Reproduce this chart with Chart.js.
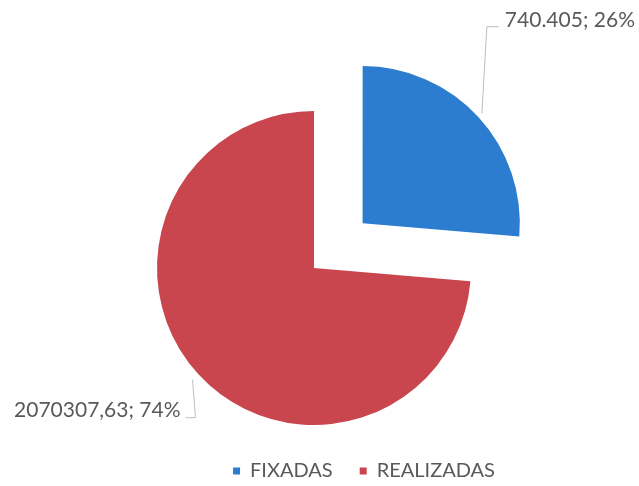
<!DOCTYPE html>
<html>
<head>
<meta charset="utf-8">
<script src="https://cdn.jsdelivr.net/npm/chart.js@4/dist/chart.umd.min.js"></script>
<style>
  html, body { margin: 0; padding: 0; background: #ffffff; }
  #wrap { width: 639px; height: 486px; position: relative; }
</style>
</head>
<body>
<div id="wrap"><canvas id="c" width="639" height="486"></canvas></div>
<script>
const categories = ['FIXADAS', 'REALIZADAS'];
const values = [740405, 2070307.63];
const valueLabels = ['740.405', '2070307,63'];
const colors = ['#2C7DD0', '#C9464F'];

const total = values.reduce((a, b) => a + b, 0);
const percentLabels = values.map(v => Math.round(v / total * 100) + '%');

const leaderPlugin = {
  id: 'leaders',
  afterDatasetsDraw(chart, args, opts) {
    const meta = chart.getDatasetMeta(0);
    const ctx = chart.ctx;
    meta.data.forEach((arc, i) => {
      const p = arc.getProps(['x', 'y', 'startAngle', 'endAngle', 'outerRadius'], true);
      const off = (arc.options.offset || 0) / 4;
      const mid = (p.startAngle + p.endAngle) / 2;
      const cx = p.x + Math.cos(mid) * off;
      const cy = p.y + Math.sin(mid) * off;
      const L = opts.items[i];
      const ax = cx + Math.cos(mid) * (p.outerRadius + L.gap);
      const ay = cy + Math.sin(mid) * (p.outerRadius + L.gap);
      const ex = ax + L.dx, ey = ay + L.dy;
      const fx = ex + L.hx;
      ctx.save();
      ctx.strokeStyle = '#BFBFBF';
      ctx.lineWidth = 1;
      ctx.beginPath();
      ctx.moveTo(ax, ay);
      ctx.lineTo(ex, ey);
      ctx.lineTo(fx, ey);
      ctx.stroke();
      ctx.fillStyle = '#595959';
      ctx.font = L.size + 'px Lato';
      ctx.textBaseline = 'middle';
      ctx.textAlign = L.hx >= 0 ? 'left' : 'right';
      const tx = fx + (L.hx >= 0 ? L.pad : -L.pad);
      ctx.fillText(valueLabels[i] + '; ' + percentLabels[i], tx, ey + L.ty);
      ctx.restore();
    });
  }
};

const legendShift = {
  id: 'legendShift',
  afterLayout(chart, args, opts) {
    if (chart.legend) { chart.legend.left += opts.left; }
  }
};

new Chart(document.getElementById('c'), {
  type: 'pie',
  data: {
    labels: categories,
    datasets: [{
      data: values,
      backgroundColor: colors,
      borderWidth: 0,
      offset: [264, 0]
    }]
  },
  options: {
    responsive: false,
    animation: false,
    radius: 157,
    layout: { padding: { top: 102, bottom: -5, left: 0, right: 11 } },
    plugins: {
      tooltip: { enabled: false },
      legend: {
        position: 'bottom',
        labels: {
          boxWidth: 7,
          boxHeight: 7,
          padding: 27,
          color: '#595959',
          font: { family: 'Lato', size: 20 }
        }
      },
      legendShift: { left: 100 },
      leaders: {
        items: [
          { gap: 5, dx: 5, dy: -87, hx: 12, pad: 6, ty: -6, size: 21 },
          { gap: 8, dx: 3, dy: 38, hx: -10, pad: 5, ty: -7, size: 21 }
        ]
      }
    }
  },
  plugins: [leaderPlugin, legendShift]
});
</script>
</body>
</html>
